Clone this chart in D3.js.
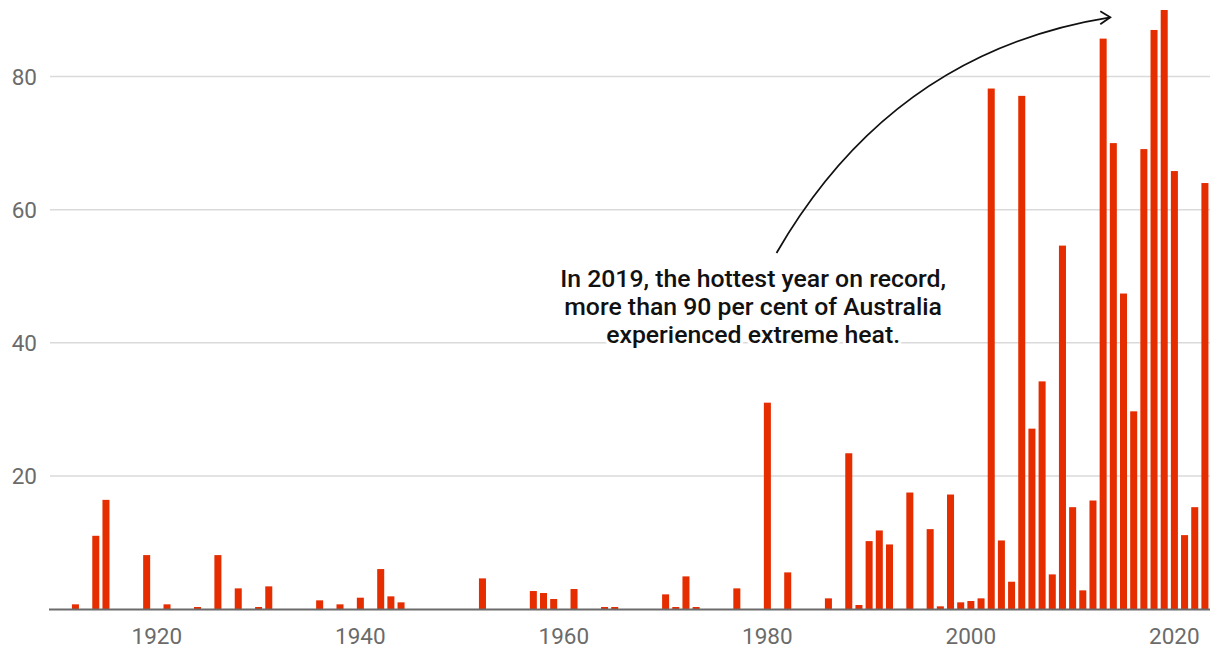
<!DOCTYPE html>
<html>
<head>
<meta charset="utf-8">
<script src="https://cdn.jsdelivr.net/npm/d3@7"></script>
<style>
  html, body { margin: 0; padding: 0; background: #fff; }
  svg { display: block; font-family: Roboto, "Noto Sans", sans-serif; }
  .grid line { stroke: #dadada; stroke-width: 1.5; }
  .tick-label { fill: #6b6b6b; font-size: 22.5px; }
  .note { fill: #111; font-size: 24.8px; font-weight: 500; stroke: #fff; stroke-width: 6; paint-order: stroke; stroke-linejoin: round; }
</style>
</head>
<body>
<svg id="chart" width="1220" height="662"></svg>
<script>
// share of Australia experiencing extreme heat, by year (per cent)
const firstYear = 1910;
const lastYear = 2023;
const values = [
  0, 0, 0.7, 0, 11.0, 16.4, 0, 0, 0, 8.1,          // 1910-1919
  0, 0.7, 0, 0, 0.3, 0, 8.1, 0, 3.1, 0,            // 1920-1929
  0.3, 3.4, 0, 0, 0, 0, 1.3, 0, 0.7, 0,            // 1930-1939
  1.7, 0, 6.0, 1.9, 1.0, 0, 0, 0, 0, 0,            // 1940-1949
  0, 0, 4.6, 0, 0, 0, 0, 2.7, 2.4, 1.5,            // 1950-1959
  0, 3.0, 0, 0, 0.3, 0.3, 0, 0, 0, 0,              // 1960-1969
  2.2, 0.3, 4.9, 0.3, 0, 0, 0, 3.1, 0, 0,          // 1970-1979
  31.0, 0, 5.5, 0, 0, 0, 1.6, 0, 23.4, 0.6,        // 1980-1989
  10.2, 11.8, 9.7, 0, 17.5, 0, 12.0, 0.4, 17.2, 1.0, // 1990-1999
  1.2, 1.6, 78.2, 10.3, 4.1, 77.1, 27.1, 34.2, 5.2, 54.6, // 2000-2009
  15.3, 2.8, 16.3, 85.7, 70.0, 47.4, 29.7, 69.1, 87.0, 90.0, // 2010-2019
  65.8, 11.1, 15.3, 64.0                           // 2020-2023
];
const years = d3.range(firstYear, lastYear + 1);
const yTicks = [20, 40, 60, 80];
const xTicks = [1920, 1940, 1960, 1980, 2000, 2020];
const noteLines = [
  "In 2019, the hottest year on record,",
  "more than 90 per cent of Australia",
  "experienced extreme heat."
];

const data = years.map((yr, i) => ({ year: yr, value: values[i] }));

const svg = d3.select("#chart");
const plotLeft = 50, plotRight = 1210, plotTop = 10, plotBottom = 609;

const x = d3.scaleBand()
  .domain(years)
  .range([plotLeft, plotRight])
  .paddingInner(0.31)
  .paddingOuter(0.155);

const y = d3.scaleLinear()
  .domain([0, 90])
  .range([plotBottom, plotTop]);

// position of a (possibly fractional) year, at the bar centre
const xc = yr => x(firstYear) + x.bandwidth() / 2 + (yr - firstYear) * x.step();

// gridlines + y labels
const grid = svg.append("g").attr("class", "grid");
grid.selectAll("line")
  .data(yTicks)
  .enter()
  .append("line")
  .attr("x1", plotLeft)
  .attr("x2", plotRight)
  .attr("y1", d => y(d))
  .attr("y2", d => y(d));

svg.append("g")
  .selectAll("text")
  .data(yTicks)
  .enter()
  .append("text")
  .attr("class", "tick-label")
  .attr("x", 37)
  .attr("y", d => y(d))
  .attr("dy", "0.36em")
  .attr("text-anchor", "end")
  .text(d => d);

// bars
svg.append("g")
  .selectAll("rect")
  .data(data.filter(d => d.value > 0))
  .enter()
  .append("rect")
  .attr("x", d => x(d.year))
  .attr("width", x.bandwidth())
  .attr("y", d => y(d.value))
  .attr("height", d => y(0) - y(d.value))
  .attr("fill", "#e52d00");

// baseline
svg.append("line")
  .attr("x1", plotLeft - 1)
  .attr("x2", plotRight)
  .attr("y1", y(0) + 0.5)
  .attr("y2", y(0) + 0.5)
  .attr("stroke", "#6b6b6b")
  .attr("stroke-width", 2);

// x labels
svg.append("g")
  .selectAll("text")
  .data(xTicks)
  .enter()
  .append("text")
  .attr("class", "tick-label")
  .attr("x", d => xc(d))
  .attr("y", 644)
  .attr("text-anchor", "middle")
  .text(d => d);

// annotation arrow (in year / value space)
const arrowStart = [1980.9, 53.5];
const arrowCtrl = [1992.3, 83.7];
const arrowEnd = [2013.7, 88.9];
const p = d3.path();
p.moveTo(xc(arrowStart[0]), y(arrowStart[1]));
p.quadraticCurveTo(xc(arrowCtrl[0]), y(arrowCtrl[1]), xc(arrowEnd[0]), y(arrowEnd[1]));
svg.append("path")
  .attr("d", p.toString())
  .attr("fill", "none")
  .attr("stroke", "#111")
  .attr("stroke-width", 1.8);

const ex = xc(arrowEnd[0]), ey = y(arrowEnd[1]);
svg.append("path")
  .attr("d", `M${ex - 10},${ey - 6}L${ex},${ey}L${ex - 10},${ey + 7}`)
  .attr("fill", "none")
  .attr("stroke", "#111")
  .attr("stroke-width", 1.8);

// annotation text
svg.append("g")
  .selectAll("text")
  .data(noteLines)
  .enter()
  .append("text")
  .attr("class", "note")
  .attr("x", xc(1978.6))
  .attr("y", (d, i) => 287 + i * 27.8)
  .attr("text-anchor", "middle")
  .text(d => d);
</script>
</body>
</html>
